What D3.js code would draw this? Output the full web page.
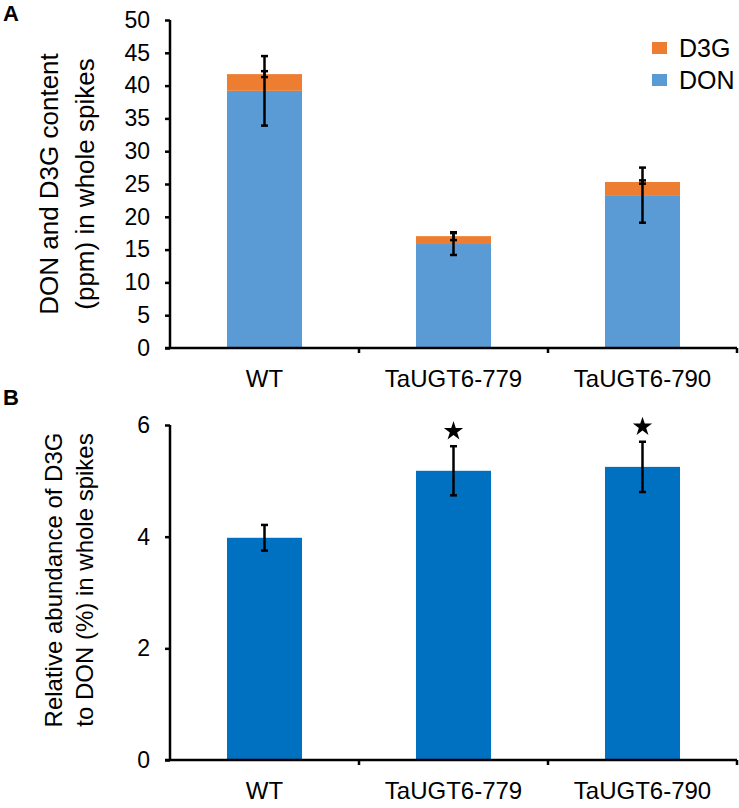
<!DOCTYPE html>
<html>
<head>
<meta charset="utf-8">
<script src="https://cdn.jsdelivr.net/npm/d3@7"></script>
<style>
  html, body { margin: 0; padding: 0; background: #fff; }
  svg text { font-family: "Liberation Sans", Arial, sans-serif; fill: #000; }
</style>
</head>
<body>
<svg id="chart" width="739" height="808"></svg>
<script>
// ---- data ----
const categories = ["WT", "TaUGT6-779", "TaUGT6-790"];
const donValues = [39.2, 15.85, 23.3];
const d3gValues = [2.55, 1.2, 2.0];
const donErr = [5.3, 1.67, 4.2];
const d3gErr = [0.45, 0.6, 0.25];
const ticksA = [0, 5, 10, 15, 20, 25, 30, 35, 40, 45, 50];
const ratioValues = [3.98, 5.18, 5.25];
const ratioErr = [0.23, 0.44, 0.45];
const significant = [false, true, true];
const ticksB = [0, 2, 4, 6];
const legendItems = ["D3G", "DON"];

const svg = d3.select("#chart");
const colDON = "#5B9BD5", colD3G = "#ED7D31", colB = "#0070C0";
const tickFs = 23, labFs = 24;

const x = d3.scaleBand().domain(categories).range([170, 737]).paddingInner(0.603).paddingOuter(0.3015);
const bounds = [170].concat(categories.map(c => x(c) + x.bandwidth() + x.step() * x.paddingInner() / 2));

function drawAxes(g, y, ticks, yTop) {
  const yAxis = d3.axisLeft(y).tickValues(ticks).tickSize(5).tickPadding(15).tickFormat(d3.format("d"));
  const ya = g.append("g").attr("transform", "translate(170,0)").call(yAxis);
  ya.select(".domain").attr("stroke", "#000").attr("stroke-width", 2.5).attr("d", `M0,${y(0)}V${yTop}`);
  ya.selectAll(".tick line").attr("stroke", "#000").attr("stroke-width", 2.5);
  ya.selectAll(".tick text").style("font-size", tickFs + "px");
  const xa = g.append("g");
  xa.append("line").attr("x1", 165).attr("x2", 737).attr("y1", y(0)).attr("y2", y(0))
    .attr("stroke", "#000").attr("stroke-width", 2.5);
  xa.selectAll(".xt").data(bounds.slice(1)).join("line")
    .attr("x1", d => d).attr("x2", d => d).attr("y1", y(0)).attr("y2", y(0) + 5)
    .attr("stroke", "#000").attr("stroke-width", 2.5);
  xa.selectAll(".xl").data(categories).join("text")
    .attr("x", d => x(d) + x.bandwidth() / 2).attr("y", y(0) + 39)
    .attr("text-anchor", "middle").style("font-size", labFs + "px").text(d => d);
}

function errBar(g, cx, y, lo, hi) {
  g.append("line").attr("x1", cx).attr("x2", cx).attr("y1", y(lo)).attr("y2", y(hi))
    .attr("stroke", "#000").attr("stroke-width", 2.5);
  [lo, hi].forEach(v => g.append("line").attr("x1", cx - 3.5).attr("x2", cx + 3.5)
    .attr("y1", y(v)).attr("y2", y(v)).attr("stroke", "#000").attr("stroke-width", 2.5));
}

// ---- Panel A ----
const yA = d3.scaleLinear().domain([0, 50]).range([348, 20]);
const gA = svg.append("g");
categories.forEach((c, i) => {
  gA.append("rect").attr("x", x(c)).attr("width", x.bandwidth())
    .attr("y", yA(donValues[i])).attr("height", yA(0) - yA(donValues[i])).attr("fill", colDON);
  const tot = donValues[i] + d3gValues[i];
  gA.append("rect").attr("x", x(c)).attr("width", x.bandwidth())
    .attr("y", yA(tot)).attr("height", yA(donValues[i]) - yA(tot)).attr("fill", colD3G);
});
drawAxes(gA, yA, ticksA, 20);
categories.forEach((c, i) => {
  const cx = x(c) + x.bandwidth() / 2;
  errBar(gA, cx, yA, donValues[i] - donErr[i], donValues[i] + donErr[i]);
  const tot = donValues[i] + d3gValues[i];
  errBar(gA, cx, yA, tot - d3gErr[i], tot + d3gErr[i]);
});
const leg = gA.append("g");
legendItems.forEach((name, i) => {
  leg.append("rect").attr("x", 652).attr("y", 42 + i * 32).attr("width", 15).attr("height", 12)
    .attr("fill", name === "D3G" ? colD3G : colDON);
  leg.append("text").attr("x", 679).attr("y", 57 + i * 32).style("font-size", "25px").text(name);
});
const tA = gA.append("text").attr("transform", "translate(0,184) rotate(-90)")
  .attr("text-anchor", "middle").style("font-size", "26px");
tA.append("tspan").attr("x", 0).attr("y", 58).text("DON and D3G content");
tA.append("tspan").attr("x", 0).attr("y", 94).text("(ppm) in whole spikes");
svg.append("text").attr("x", 3).attr("y", 21).style("font-size", "22px").style("font-weight", "bold").text("A");

// ---- Panel B ----
const yB = d3.scaleLinear().domain([0, 6]).range([760, 425]);
const gB = svg.append("g");
gB.selectAll(".barB").data(categories).join("rect")
  .attr("x", d => x(d)).attr("width", x.bandwidth())
  .attr("y", (d, i) => yB(ratioValues[i])).attr("height", (d, i) => yB(0) - yB(ratioValues[i]))
  .attr("fill", colB);
drawAxes(gB, yB, ticksB, 425);
categories.forEach((c, i) => {
  const cx = x(c) + x.bandwidth() / 2;
  errBar(gB, cx, yB, ratioValues[i] - ratioErr[i], ratioValues[i] + ratioErr[i]);
  if (significant[i]) {
    gB.append("path").attr("d", d3.symbol(d3.symbolStar, 115)())
      .attr("transform", `translate(${cx},${yB(ratioValues[i] + ratioErr[i]) - 15})`)
      .attr("fill", "#000");
  }
});
const tB = gB.append("text").attr("transform", "translate(0,580) rotate(-90)")
  .attr("text-anchor", "middle").style("font-size", "24px");
tB.append("tspan").attr("x", 0).attr("y", 62).text("Relative abundance of D3G");
tB.append("tspan").attr("x", 0).attr("y", 93).text("to DON (%) in whole spikes");
svg.append("text").attr("x", 3).attr("y", 405).style("font-size", "22px").style("font-weight", "bold").text("B");
</script>
</body>
</html>
